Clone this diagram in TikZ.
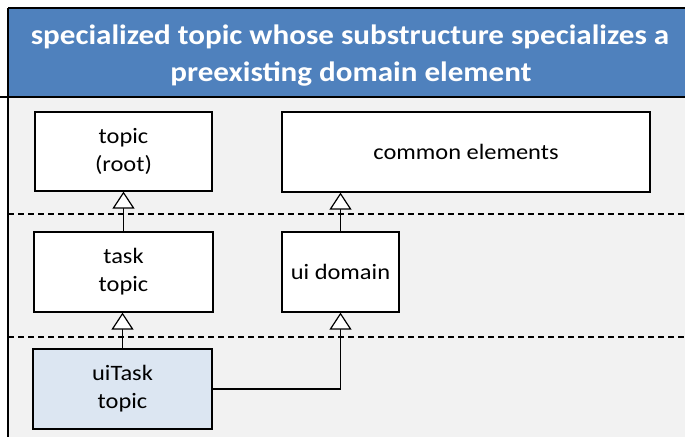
\documentclass[tikz,border=0pt]{standalone}
\usepackage{fontspec}
\setmainfont{Carlito}
\newfontfamily\diagfont[FakeStretch=1.11]{Carlito}
\usetikzlibrary{arrows.meta}
\definecolor{bandblue}{HTML}{4F81BD}
\definecolor{panelgray}{HTML}{F2F2F2}
\definecolor{paleblue}{HTML}{DCE6F2}
\tikzset{
  box/.style={draw=black, line width=1.2pt, fill=white, rectangle, align=center,
    font=\diagfont\fontsize{22}{28}\selectfont, inner sep=0pt},
  spec/.style={line width=1.2pt, -{Triangle[open,width=22pt,length=17pt,fill=white]}},
  layer/.style={line width=1.1pt, dash pattern=on 6pt off 4pt},
  heading/.style={text=white, anchor=base, inner sep=0pt,
    font=\diagfont\bfseries\fontsize{28}{36}\selectfont},
}
\begin{document}
\begin{tikzpicture}[x=1pt,y=-1pt]
  \useasboundingbox (0,0) rectangle (685,437);
  % panel background and title band
  \fill[panelgray] (8,97) rectangle (685,437);
  \fill[bandblue] (8,8) rectangle (685,97);
  \draw[line width=1.2pt] (8,8) -- (685,8);
  \draw[line width=1.2pt] (0,97) -- (685,97);
  \draw[line width=1.2pt] (8,8) -- (8,437);
  \node[heading] (title1) at (350,44) {specialized topic whose substructure specializes a};
  \node[heading] (title2) at (351,81) {preexisting domain element};
  % layer separators
  \coordinate (l1a) at (8,214);  \coordinate (l1b) at (685,214);
  \coordinate (l2a) at (8,337);  \coordinate (l2b) at (685,337);
  \draw[layer] (l1a) -- (l1b);
  \draw[layer] (l2a) -- (l2b);
  % elements
  \node[box, minimum width=177pt, minimum height=79pt] (topic) at (123.5,151.5) {topic\\(root)};
  \node[box, minimum width=368pt, minimum height=80pt] (common) at (466,152) {common elements};
  \node[box, minimum width=179pt, minimum height=80pt] (task) at (123.5,272) {task\\topic};
  \node[box, minimum width=117pt, minimum height=80pt] (ui) at (340.5,272) {ui domain};
  \node[box, fill=paleblue, minimum width=179pt, minimum height=80pt] (uitask) at (122.5,389) {uiTask\\topic};
  % specialization links
  \draw[spec] (task.north) -- (topic.south);
  \draw[spec] (ui.north) -- (common.south -| ui.north);
  \draw[spec] (uitask.north) -- (task.south -| uitask.north);
  \draw[spec] (uitask.east) -| (ui.south);
\end{tikzpicture}
\end{document}
